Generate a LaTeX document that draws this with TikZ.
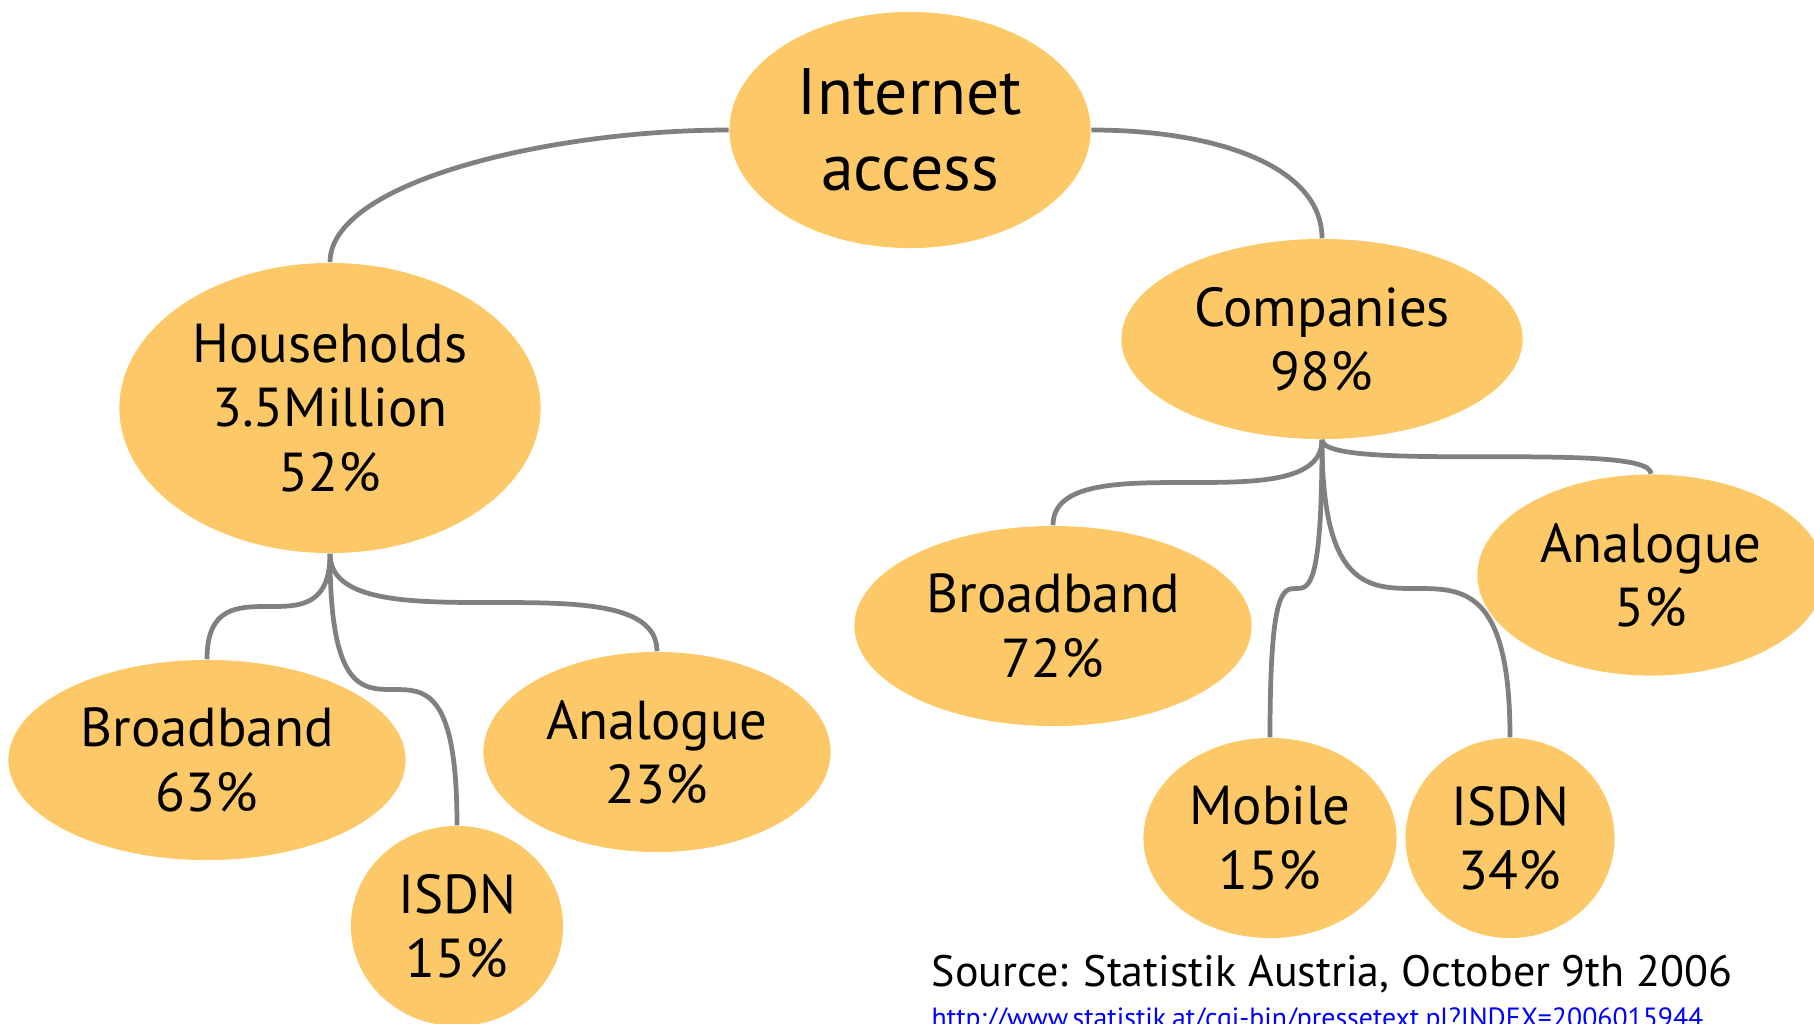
\documentclass[tikz,border=0pt]{standalone}
\usepackage{fontspec}
\setmainfont{PT Sans}
\usetikzlibrary{shapes.geometric}

\definecolor{bubblefill}{HTML}{FDC968}
\definecolor{twiggray}{HTML}{808080}
\definecolor{linkblue}{HTML}{0000FF}

\tikzset{
  bubble/.style={ellipse, fill=bubblefill, inner sep=0pt, align=center,
    font=\fontsize{15.6}{18.3}\selectfont},
  twig/.style={draw=twiggray, line width=1.35pt},
  branch/.style={to path={.. controls (\tikztostart |- \tikztotarget) and (\tikztotarget |- \tikztostart) .. (\tikztotarget)}},
}

\begin{document}
\begin{tikzpicture}[x=0.01cm, y=-0.01cm]
    \useasboundingbox (0,0) rectangle (1814,1023);

    % root and the two groups
    \node[bubble, minimum width=3.61cm, minimum height=2.36cm,
      font=\fontsize{18.7}{21.6}\selectfont] (net) at (910,130) {Internet\\access};
    \node[bubble, minimum width=4.21cm, minimum height=2.90cm] (hh) at (330,408) {Households\\3.5Million\\52\%};
    \node[bubble, minimum width=4.01cm, minimum height=2.00cm] (co) at (1322,339) {Companies\\98\%};

    % households
    \node[bubble, minimum width=3.97cm, minimum height=2.00cm] (hhbroad) at (207,760) {Broadband\\63\%};
    \node[bubble, minimum width=2.12cm, minimum height=2.00cm] (hhisdn) at (457,926) {ISDN\\15\%};
    \node[bubble, minimum width=3.47cm, minimum height=2.00cm] (hhanalog) at (657,752) {Analogue\\23\%};

    % companies
    \node[bubble, minimum width=3.97cm, minimum height=2.00cm] (cobroad) at (1053,626) {Broadband\\72\%};
    \node[bubble, minimum width=2.53cm, minimum height=2.00cm] (comobile) at (1270,838) {Mobile\\15\%};
    \node[bubble, minimum width=2.09cm, minimum height=2.00cm] (coisdn) at (1510,838) {ISDN\\34\%};
    \node[bubble, minimum width=3.47cm, minimum height=2.01cm] (coanalog) at (1651,575) {Analogue\\5\%};

    \draw[twig] (net.west) .. controls +(-180,0) and +(0,-80) .. (hh.north);
    \draw[twig] (net.east) .. controls +(130,0) and +(0,-70) .. (co.north);

    \draw[twig] (hh.south) to[branch] (hhbroad.north);
    \draw[twig] (hh.south) to[branch] (hhisdn.north);
    \draw[twig] (hh.south) to[branch] (hhanalog.north);

    \draw[twig] (co.south) to[branch] (cobroad.north);
    \draw[twig] (co.south) to[branch] (comobile.north);
    \draw[twig] (co.south) to[branch] (coisdn.north);
    \draw[twig] (co.south) to[branch] (coanalog.north);

    % source
    \node[anchor=base west, inner sep=0pt, font=\fontsize{12.5}{15}\selectfont] (src) at (931,986)
      {Source: Statistik Austria, October 9th 2006};
    \node[anchor=base west, inner sep=0pt, text=linkblue, font=\fontsize{7.9}{10}\selectfont] (url) at (931,1027)
      {http://www.statistik.at/cgi-bin/pressetext.pl?INDEX=2006015944};
\end{tikzpicture}
\end{document}
